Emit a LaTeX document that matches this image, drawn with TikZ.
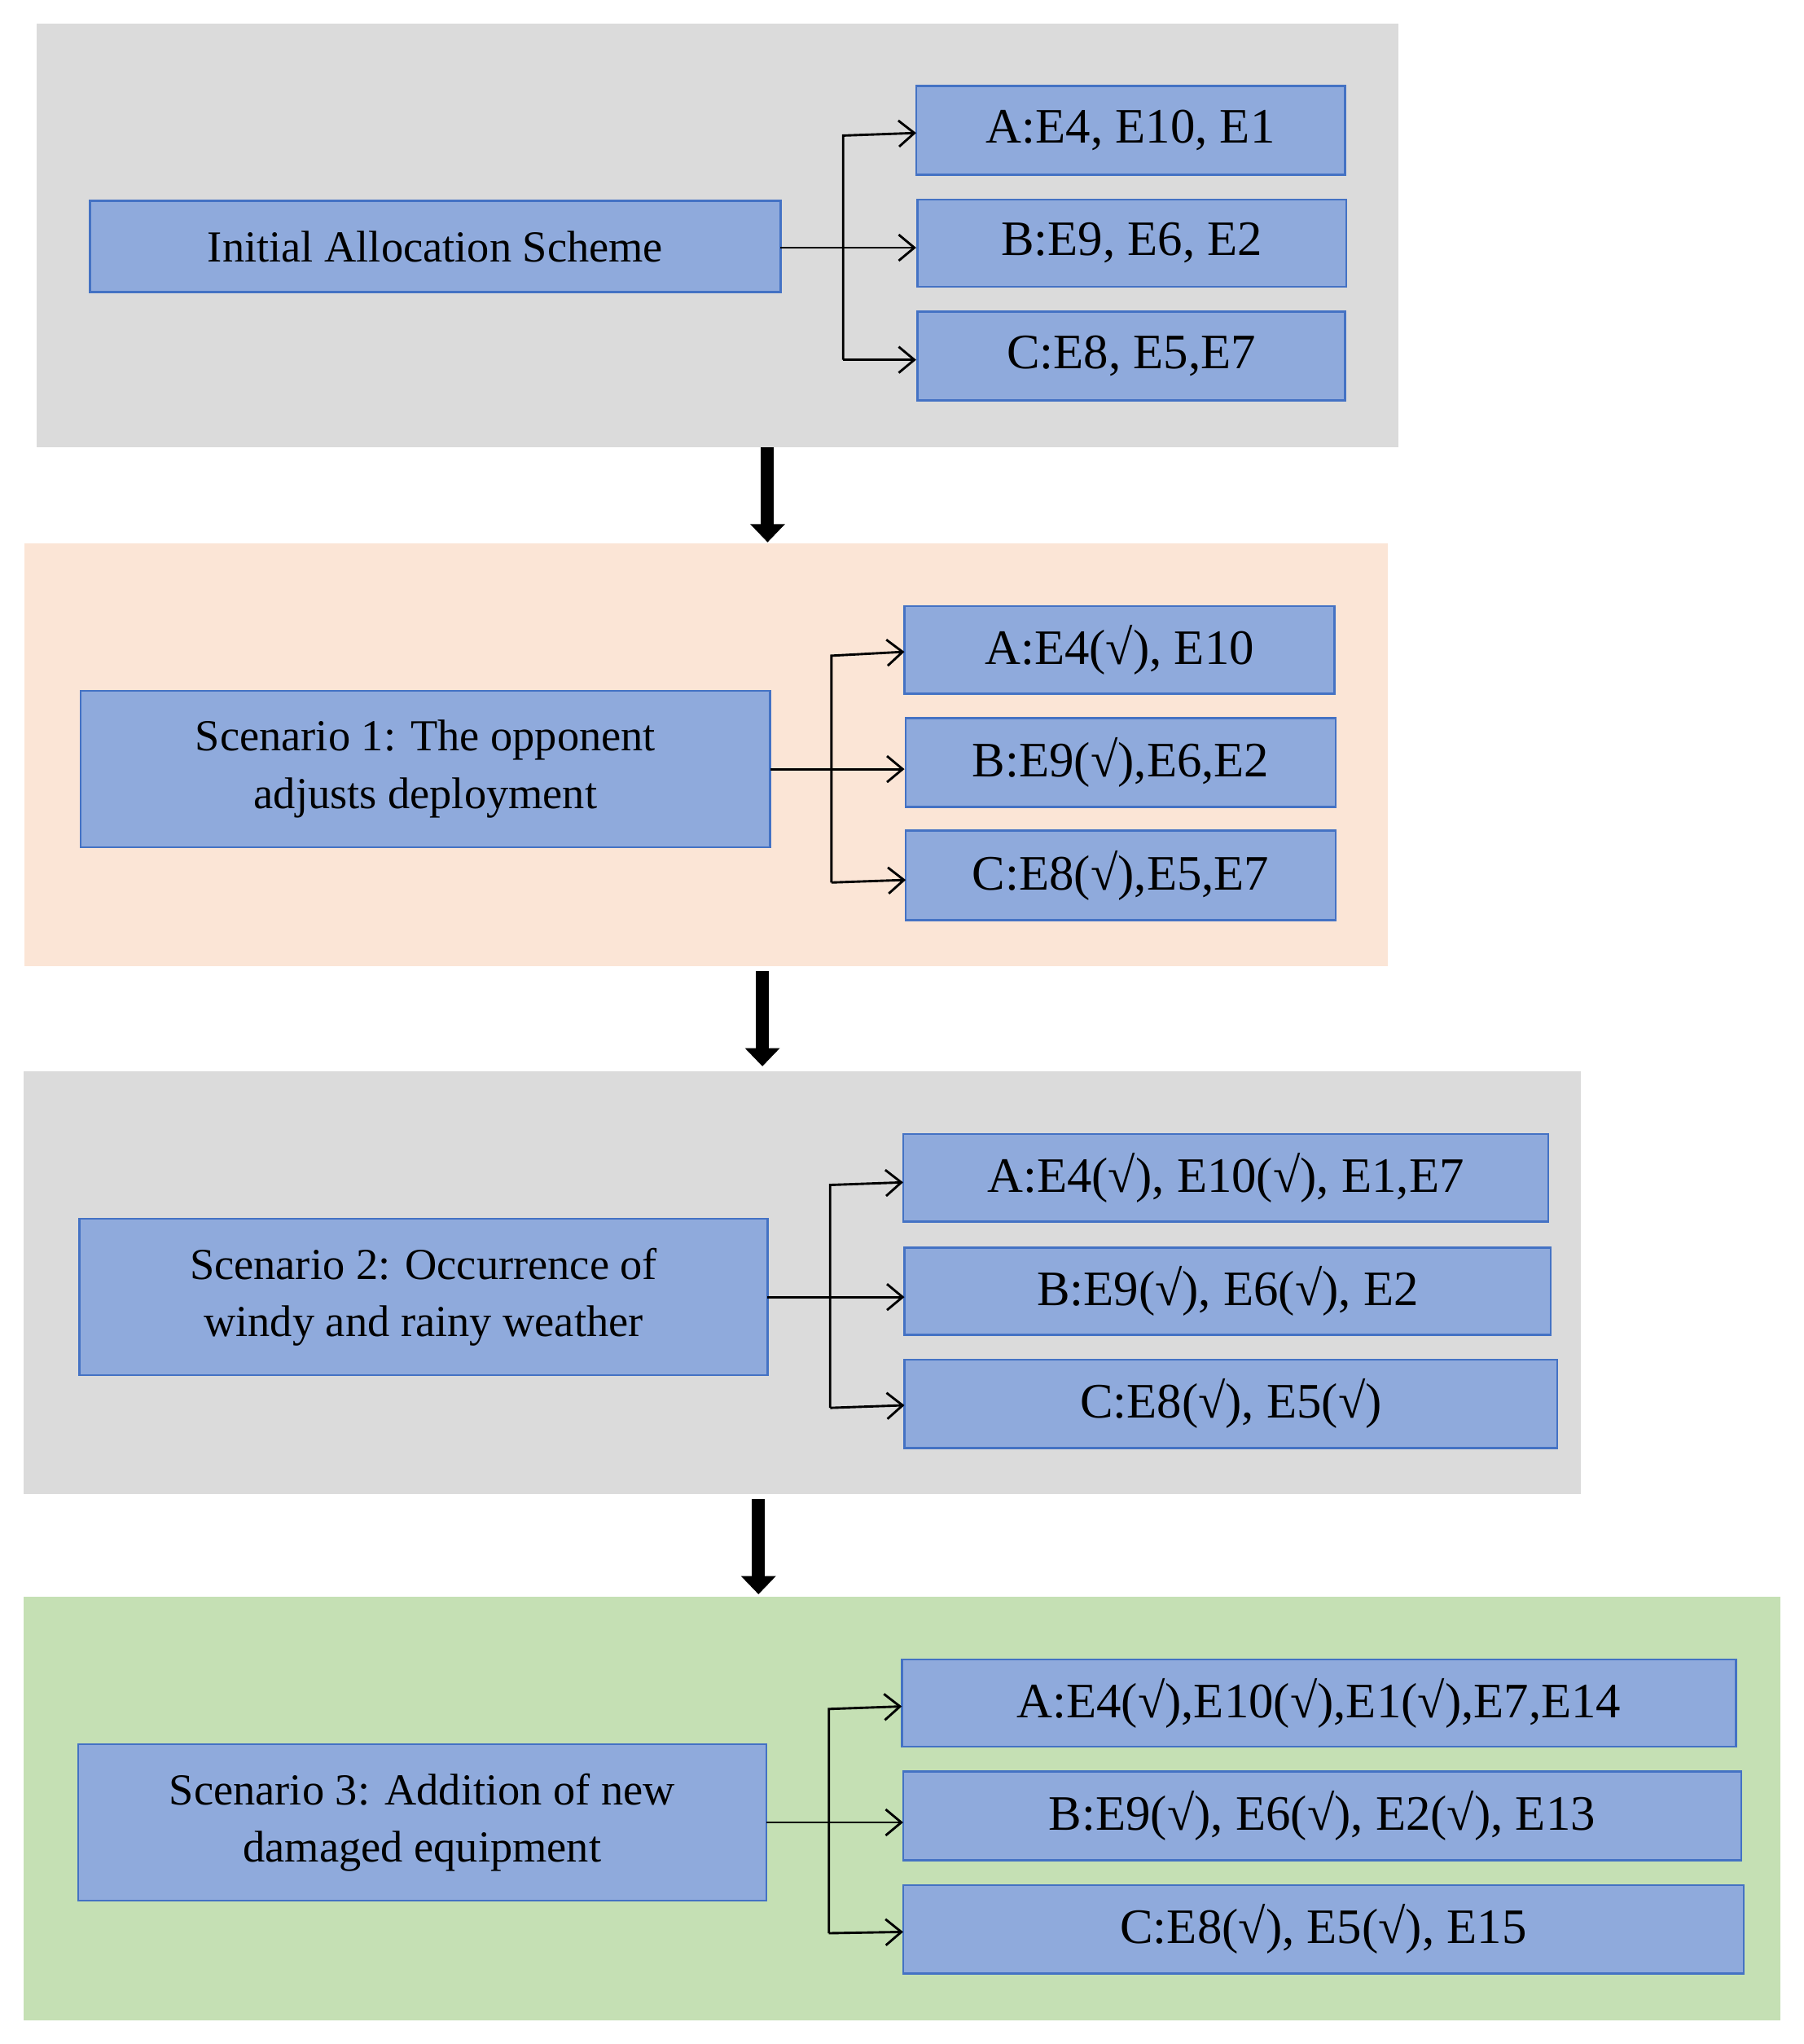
\documentclass[tikz,border=0pt]{standalone}
\usepackage{fontspec}
\setmainfont{Liberation Serif}
\usetikzlibrary{arrows.meta}
\definecolor{pgray}{HTML}{DBDBDB}
\definecolor{ppeach}{HTML}{FBE5D6}
\definecolor{pgreen}{HTML}{C5E0B4}
\definecolor{bfill}{HTML}{8FAADC}
\definecolor{bdraw}{HTML}{4472C4}
\begin{document}
\begin{tikzpicture}[x=0.5pt,y=-0.5pt,
 panel/.style={draw=none},
 box/.style={fill=bfill,draw=bdraw,line width=0.8pt},
 main/.style={font=\fontsize{17}{22}\selectfont,align=center},
 item/.style={font=\fontsize{19}{22}\selectfont},
 br/.style={-{Straight Barb[length=6pt,width=10pt]},line width=0.9pt},
 big/.style={-{Triangle[length=7pt,width=13pt]},line width=5pt}]
\useasboundingbox (0,0) rectangle (1384,1568);
\fill[pgray] (28,18) rectangle (1073,343);
\fill[ppeach] (19,417) rectangle (1065,741);
\fill[pgray] (18,822) rectangle (1213,1146);
\fill[pgreen] (18,1225) rectangle (1366,1550);
% panel 1
\draw[box] (69,154) rectangle node[main] (m1) {Initial Allocation Scheme} (599,224);
\draw[box] (703,66) rectangle node[item] (a1) {A:E4, E10, E1} (1032,134);
\draw[box] (704,153) rectangle node[item] (b1) {B:E9, E6, E2} (1033,220);
\draw[box] (704,239) rectangle node[item] (c1) {C:E8, E5,E7} (1032,307);
% panel 2
\draw[box] (62,530) rectangle node[main] (m2) {Scenario 1: The opponent\\adjusts deployment} (591,650);
\draw[box] (694,465) rectangle node[item] (a2) {A:E4(√), E10} (1024,532);
\draw[box] (695,551) rectangle node[item] (b2) {B:E9(√),E6,E2} (1025,619);
\draw[box] (695,637) rectangle node[item] (c2) {C:E8(√),E5,E7} (1025,706);
% panel 3
\draw[box] (61,935) rectangle node[main] (m3) {Scenario 2: Occurrence of\\windy and rainy weather} (589,1055);
\draw[box] (693,870) rectangle node[item] (a3) {A:E4(√), E10(√), E1,E7} (1188,937);
\draw[box] (694,957) rectangle node[item] (b3) {B:E9(√), E6(√), E2} (1190,1024);
\draw[box] (694,1043) rectangle node[item] (c3) {C:E8(√), E5(√)} (1195,1111);
% panel 4
\draw[box] (60,1338) rectangle node[main] (m4) {Scenario 3: Addition of new\\damaged equipment} (588,1458);
\draw[box] (692,1273) rectangle node[item] (a4) {A:E4(√),E10(√),E1(√),E7,E14} (1332,1340);
\draw[box] (693,1359) rectangle node[item] (b4) {B:E9(√), E6(√), E2(√), E13} (1336,1427);
\draw[box] (693,1446) rectangle node[item] (c4) {C:E8(√), E5(√), E15} (1338,1514);
% branches
\draw[br] (599,190) -- (703,190);
\draw[br] (647,276) -- (647,104) -- (703,102);
\draw[br] (647,276) -- (703,276);
\draw[br] (591,590) -- (694,590);
\draw[br] (638,677) -- (638,503) -- (694,500);
\draw[br] (638,677) -- (695,675);
\draw[br] (589,995) -- (694,995);
\draw[br] (637,1080) -- (637,909) -- (693,907);
\draw[br] (637,1080) -- (694,1078);
\draw[br] (588,1398) -- (693,1398);
\draw[br] (636,1483) -- (636,1311) -- (692,1309);
\draw[br] (636,1483) -- (693,1482);
% big arrows
\coordinate (s1) at (589,343); \coordinate (e1) at (589,416);
\coordinate (s2) at (585,745); \coordinate (e2) at (585,818);
\coordinate (s3) at (582,1150); \coordinate (e3) at (582,1223);
\draw[big] (s1) -- (e1);
\draw[big] (s2) -- (e2);
\draw[big] (s3) -- (e3);
\end{tikzpicture}
\end{document}
